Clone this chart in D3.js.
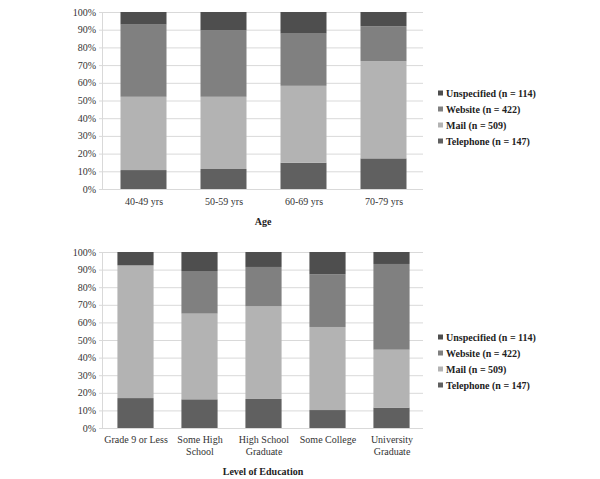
<!DOCTYPE html>
<html><head><meta charset="utf-8">
<script src="https://cdn.jsdelivr.net/npm/d3@7"></script>
<style>body{margin:0;background:#fff}svg{display:block}</style>
</head><body>
<svg id="c" width="600" height="479"></svg>
<script>
const series = ["Telephone", "Mail", "Website", "Unspecified"];
const legendLabels = ["Unspecified (n = 114)", "Website (n = 422)", "Mail (n = 509)", "Telephone (n = 147)"];
const colors = {Telephone:"#606060", Mail:"#b3b3b3", Website:"#808080", Unspecified:"#4e4e4e"};

const ageCategories = ["40-49 yrs", "50-59 yrs", "60-69 yrs", "70-79 yrs"];
const ageTelephone = [10.7, 11.3, 14.8, 17.3];
const ageMail = [41.4, 40.8, 43.5, 54.9];
const ageWebsite = [40.8, 37.7, 29.5, 19.7];
const ageUnspecified = [7.1, 10.2, 12.2, 8.1];

const eduCategories = ["Grade 9 or Less", "Some High School", "High School Graduate", "Some College", "University Graduate"];
const eduLines = [["Grade 9 or Less"], ["Some High", "School"], ["High School", "Graduate"], ["Some College"], ["University", "Graduate"]];
const eduTelephone = [17.0, 16.3, 16.5, 10.2, 11.6];
const eduMail = [75.4, 48.7, 52.6, 47.2, 32.9];
const eduWebsite = [0, 24.2, 22.4, 29.9, 48.7];
const eduUnspecified = [7.6, 10.8, 8.5, 12.7, 6.8];

const yTicks = [0,10,20,30,40,50,60,70,80,90,100];

const svg = d3.select("#c");
const font = "'Liberation Serif','Times New Roman',serif";

function drawChart(cfg) {
  const g = svg.append("g");
  const rows = cfg.cats.map((c,i)=>({cat:c, Telephone:cfg.tel[i], Mail:cfg.mail[i], Website:cfg.web[i], Unspecified:cfg.uns[i]}));
  const x = d3.scaleBand().domain(cfg.cats).range([103,423]).padding(0);
  const y = d3.scaleLinear().domain([0,100]).range([cfg.y0, cfg.y1]);
  // gridlines
  g.selectAll("line.grid").data(yTicks).join("line")
    .attr("x1",103).attr("x2",423).attr("y1",d=>y(d)+0.5).attr("y2",d=>y(d)+0.5)
    .attr("stroke","#d9d9d9").attr("stroke-width",1);
  // y axis line
  g.append("line").attr("x1",102.5).attr("x2",102.5).attr("y1",y(100)).attr("y2",y(0)+0.5).attr("stroke","#d9d9d9");
  g.selectAll("line.tick").data(yTicks).join("line")
    .attr("x1",99).attr("x2",103).attr("y1",d=>y(d)+0.5).attr("y2",d=>y(d)+0.5).attr("stroke","#d9d9d9");
  g.selectAll("text.yl").data(yTicks).join("text")
    .attr("x",96).attr("y",d=>y(d)).attr("dy","0.35em").attr("text-anchor","end")
    .attr("font-family",font).attr("font-size",10).attr("fill","#333")
    .text(d=>d+"%");
  const stacked = d3.stack().keys(series)(rows);
  const bw = x.bandwidth()*cfg.barFrac;
  g.selectAll("g.s").data(stacked).join("g").attr("fill",d=>colors[d.key])
    .selectAll("rect").data(d=>d).join("rect")
    .attr("x",d=>x(d.data.cat)+(x.bandwidth()-bw)/2+0.5)
    .attr("width",bw)
    .attr("y",d=>y(d[1]))
    .attr("height",d=>y(d[0])-y(d[1]));
  // x labels
  cfg.cats.forEach((c,i)=>{
    const lines = cfg.lines ? cfg.lines[i] : [c];
    const t = g.append("text").attr("text-anchor","middle").attr("font-family",font).attr("font-size",10).attr("fill","#333");
    lines.forEach((l,j)=>t.append("tspan").attr("x",x(c)+x.bandwidth()/2+1).attr("y",cfg.labelY+j*11.5).text(l));
  });
  g.append("text").attr("x",263).attr("y",cfg.titleY).attr("text-anchor","middle")
    .attr("font-family",font).attr("font-size",10).attr("font-weight","bold").attr("fill","#222").text(cfg.title);
  // legend
  const keysTop = ["Unspecified","Website","Mail","Telephone"];
  keysTop.forEach((k,i)=>{
    const yy = cfg.legY + i*16;
    g.append("rect").attr("x",438).attr("y",yy-2.5).attr("width",5).attr("height",5).attr("fill",colors[k]);
    g.append("text").attr("x",446).attr("y",yy).attr("dy","0.35em").attr("font-family",font).attr("font-size",10)
      .attr("font-weight","bold").attr("fill","#222").text(legendLabels[i]);
  });
}

drawChart({cats:ageCategories, tel:ageTelephone, mail:ageMail, web:ageWebsite, uns:ageUnspecified,
  y0:189, y1:12, barFrac:0.575, labelY:205, titleY:225, title:"Age", legY:93});
drawChart({cats:eduCategories, lines:eduLines, tel:eduTelephone, mail:eduMail, web:eduWebsite, uns:eduUnspecified,
  y0:428, y1:252, barFrac:0.565, labelY:443, titleY:475, title:"Level of Education", legY:337});
</script>
</body></html>
